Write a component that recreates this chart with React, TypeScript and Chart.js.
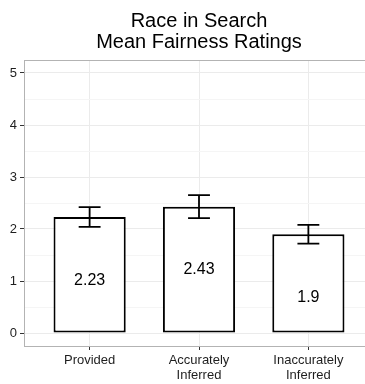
import React, { useEffect, useRef } from "react";
import { Chart, registerables } from "chart.js";

Chart.register(...registerables);

const titleLines = ["Race in Search", "Mean Fairness Ratings"];
const categories: string[][] = [["Provided"], ["Accurately", "Inferred"], ["Inaccurately", "Inferred"]];
const means = [2.23, 2.43, 1.9];
const errLow = [2.04, 2.21, 1.72];
const errHigh = [2.42, 2.65, 2.08];
const valueLabels = ["2.23", "2.43", "1.9"];
const labelY = [1.0, 1.21, 0.69];
const yTicks = [0, 0.5, 1, 1.5, 2, 2.5, 3, 3.5, 4, 4.5, 5];

const FONT = "'Liberation Sans', Arial, Helvetica, sans-serif";

const decorPlugin = {
  id: "decor",
  afterDatasetsDraw(chart: any) {
    const { ctx, chartArea, scales } = chart;
    const x = scales.x;
    const y = scales.y;
    ctx.save();
    // top panel line
    ctx.strokeStyle = "#B3B3B3";
    ctx.lineWidth = 1;
    ctx.beginPath();
    ctx.moveTo(chartArea.left, chartArea.top + 0.5);
    ctx.lineTo(chartArea.right, chartArea.top + 0.5);
    ctx.stroke();
    // error bars
    ctx.strokeStyle = "#000";
    ctx.lineWidth = 1.8;
    const capHalf = (x.getPixelForValue(1) - x.getPixelForValue(0)) * 0.1;
    means.forEach((_, i) => {
      const px = x.getPixelForValue(i);
      const lo = y.getPixelForValue(errLow[i]);
      const hi = y.getPixelForValue(errHigh[i]);
      ctx.beginPath();
      ctx.moveTo(px, lo);
      ctx.lineTo(px, hi);
      ctx.moveTo(px - capHalf, lo);
      ctx.lineTo(px + capHalf, lo);
      ctx.moveTo(px - capHalf, hi);
      ctx.lineTo(px + capHalf, hi);
      ctx.stroke();
    });
    // value labels
    ctx.fillStyle = "#000";
    ctx.font = `16px ${FONT}`;
    ctx.textAlign = "center";
    ctx.textBaseline = "middle";
    valueLabels.forEach((t, i) => {
      ctx.fillText(t, x.getPixelForValue(i), y.getPixelForValue(labelY[i]));
    });
    ctx.restore();
  },
};

export default function App() {
  const ref = useRef<HTMLCanvasElement>(null);
  useEffect(() => {
    if (!ref.current) return;
    const chart = new Chart(ref.current, {
      type: "bar",
      data: {
        datasets: [
          {
            data: means.map((v, i) => ({ x: i, y: v })),
            backgroundColor: "#FFFFFF",
            borderColor: "#000000",
            borderWidth: 2,
            borderSkipped: false,
            categoryPercentage: 1,
            barPercentage: 0.66,
          } as any,
        ],
      },
      options: {
        animation: false,
        responsive: false,
        devicePixelRatio: 1,
        layout: { padding: { left: 0, right: 2, top: 0, bottom: 0 } },
        plugins: {
          legend: { display: false },
          tooltip: { enabled: false },
          title: {
            display: true,
            text: titleLines,
            fullSize: false,
            color: "#000",
            font: { family: FONT, size: 20, weight: "normal", lineHeight: 1.05 },
            padding: { top: 11, bottom: 7 },
          },
        },
        scales: {
          x: {
            type: "linear",
            min: -0.6,
            max: 2.6,
            offset: false,
            afterBuildTicks: (axis: any) => {
              axis.ticks = categories.map((_, i) => ({ value: i }));
            },
            afterFit: (axis: any) => {
              axis.height = 38;
            },
            grid: {
              offset: false,
              color: "#EBEBEB",
              lineWidth: 1,
              tickColor: "#333333",
              tickLength: 4,
              drawOnChartArea: true,
            },
            border: { display: true, color: "#B3B3B3", width: 1 },
            ticks: {
              autoSkip: false,
              maxRotation: 0,
              minRotation: 0,
              padding: 3,
              color: "#1E1E1E",
              font: { family: FONT, size: 13, lineHeight: 1.15 },
              callback: (v: any) => categories[Math.round(Number(v))] as any,
            },
          },
          y: {
            type: "linear",
            min: -0.25,
            max: 5.25,
            afterBuildTicks: (axis: any) => {
              axis.ticks = yTicks.map((v) => ({ value: v }));
            },
            afterFit: (axis: any) => {
              axis.width = 24;
            },
            grid: {
              color: (c: any) => (Number.isInteger(c.tick?.value) ? "#EBEBEB" : "#F5F5F5"),
              lineWidth: 1,
              tickColor: (c: any) => (Number.isInteger(c.tick?.value) ? "#333333" : "rgba(0,0,0,0)"),
              tickLength: 4,
            },
            border: { display: true, color: "#B3B3B3", width: 1 },
            ticks: {
              autoSkip: false,
              padding: 3,
              color: "#1E1E1E",
              font: { family: FONT, size: 13 },
              callback: (v: any) => (Number.isInteger(Number(v)) ? String(v) : ""),
            },
          },
        },
      } as any,
      plugins: [decorPlugin],
    });
    return () => chart.destroy();
  }, []);
  return (
    <div style={{ position: "absolute", left: 0, top: 0, width: 365, height: 384, overflow: "hidden", background: "#fff" }}>
      <canvas ref={ref} width={376} height={384} style={{ width: 376, height: 384, display: "block" }} />
    </div>
  );
}
